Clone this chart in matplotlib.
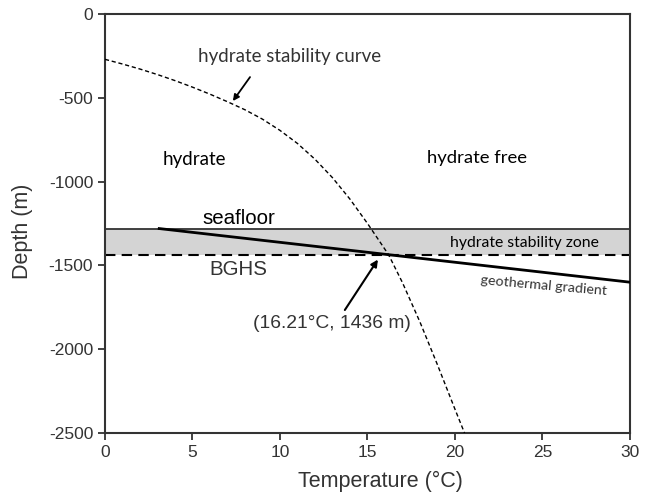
import numpy as np
import matplotlib
matplotlib.use("Agg")
import matplotlib.pyplot as plt

plt.rcParams["axes.unicode_minus"] = False

# hydrate stability curve
curve_temp = [0, 1, 2, 3, 4, 5, 6, 7, 8, 9, 10, 11, 12, 13, 14, 15, 16.21,
              17, 18, 19, 20, 20.55]
curve_depth = [-270, -298, -328, -361, -397, -436, -478, -523, -571, -627, -694, -772,
               -866, -976, -1104, -1249, -1436, -1602, -1837, -2092, -2357, -2500]

# geothermal gradient
geo_temp = [3.1, 30]
geo_depth = [-1280, -1600]

seafloor = -1280
bghs = -1436
bghs_temp = 16.21

xticks = [0, 5, 10, 15, 20, 25, 30]
yticks = [0, -500, -1000, -1500, -2000, -2500]

dark = "#333333"
arial = "Liberation Sans"
soft = "Lato"

fig = plt.figure(figsize=(6.48, 4.94), dpi=100)
ax = fig.add_axes([0.162, 0.1235, 0.81, 0.848])

ax.axhspan(bghs, seafloor, color="#d4d4d4", lw=0, zorder=1)
ax.axhline(seafloor, color=dark, lw=1.3, zorder=2)
ax.axhline(bghs, color="black", lw=1.5, ls=(0, (5, 3)), zorder=2)
ax.plot(geo_temp, geo_depth, color="black", lw=2.0, zorder=3)
ax.plot(curve_temp, curve_depth, color="black", lw=1.0, ls=(0, (3, 2)), zorder=3)

ax.set_xlim(0, 30)
ax.set_ylim(-2500, 0)
ax.set_xticks(xticks)
ax.set_yticks(yticks)

for s in ax.spines.values():
    s.set_color(dark)
    s.set_linewidth(1.5)
ax.tick_params(direction="out", length=5, width=1.3, color=dark, labelcolor=dark,
               labelsize=12.5, top=False, right=False)
for lab in ax.get_xticklabels() + ax.get_yticklabels():
    lab.set_family(arial)

ax.set_xlabel("Temperature (\u00b0C)", fontsize=15.5, color=dark, family=arial)
ax.set_ylabel("Depth (m)", fontsize=15.5, color=dark, family=arial)
ax.xaxis.set_label_coords(0.524, -0.09)
ax.yaxis.set_label_coords(-0.137, 0.482)

ax.text(10.57, -255, "hydrate stability curve", ha="center", va="center",
        fontsize=13.5, color=dark, family=soft)
ax.annotate("", xy=(7.31, -519), xytext=(8.29, -376),
            arrowprops=dict(arrowstyle="-|>", color="black", lw=1.3, mutation_scale=9,
                            shrinkA=0, shrinkB=0))
ax.text(5.12, -867, "hydrate", ha="center", va="center", fontsize=13.5, color="black",
        family=soft)
ax.text(21.26, -861, "hydrate free", ha="center", va="center", fontsize=13.3, color="black",
        family=soft)
ax.text(7.66, -1221, "seafloor", ha="center", va="center", fontsize=14.8, color="black",
        family=arial)
ax.text(7.6, -1523, "BGHS", ha="center", va="center", fontsize=14.8, color=dark, family=arial)
ax.text(24.0, -1364, "hydrate stability zone", ha="center", va="center", fontsize=11.3,
        color="black", family=soft)
ax.text(25.05, -1623, "geothermal gradient", ha="center", va="center", fontsize=10.3,
        color=dark, family=soft, rotation=-5)
ax.text(12.99, -1845, "(%.2f\u00b0C, %d m)" % (bghs_temp, -bghs), ha="center", va="center",
        fontsize=13.9, color=dark, family=arial)
ax.annotate("", xy=(15.6, -1465), xytext=(13.71, -1766),
            arrowprops=dict(arrowstyle="-|>", color="black", lw=1.5, mutation_scale=10,
                            shrinkA=0, shrinkB=0))

fig.savefig("out.png", dpi=100)
